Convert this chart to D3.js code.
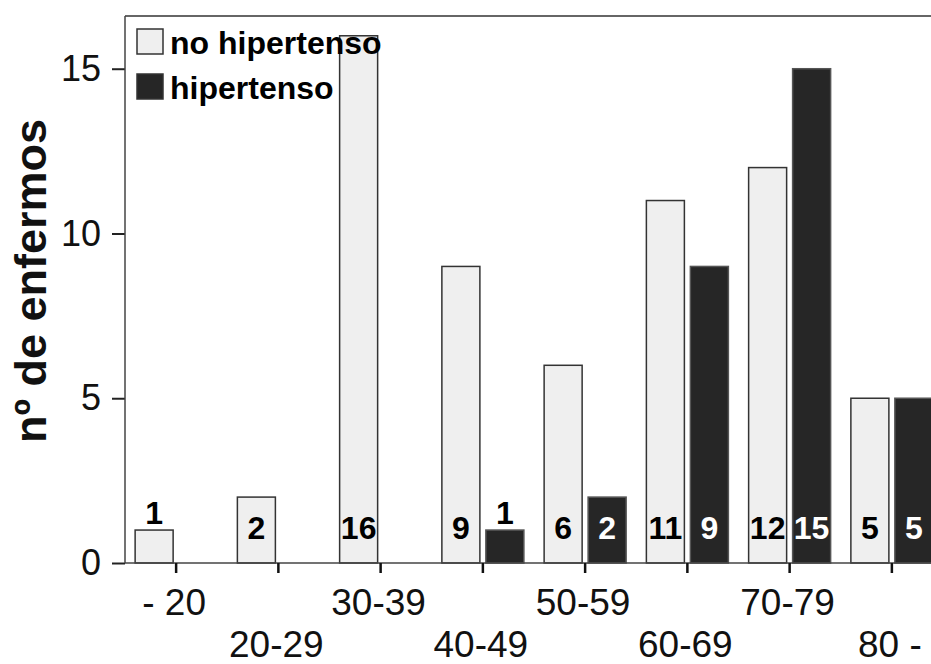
<!DOCTYPE html>
<html>
<head>
<meta charset="utf-8">
<title>enfermos por edad</title>
<script src="https://cdn.jsdelivr.net/npm/d3@7"></script>
<style>
  html, body { margin: 0; padding: 0; background: #fff; }
  svg { font-family: "Liberation Sans", Arial, sans-serif; display: block; }
</style>
</head>
<body>
<div id="chart"></div>
<script>
// grupos de edad y numero de enfermos
const categories = ['- 20', '20-29', '30-39', '40-49', '50-59', '60-69', '70-79', '80 -']
const series = ['no hipertenso', 'hipertenso']
const noHipertenso = [1, 2, 16, 9, 6, 11, 12, 5]
const hipertenso = [0, 0, 0, 1, 2, 9, 15, 5]
const yTicks = [0, 5, 10, 15]

const width = 931, height = 664
const plot = {left: 125, top: 16, bottom: 563, right: 943}

const svg = d3.select('#chart').append('svg')
  .attr('width', width)
  .attr('height', height)

const x = d3.scaleBand()
  .domain(categories)
  .range([plot.left, plot.right])

const bw = x.bandwidth()
const xSub = d3.scaleBand()
  .domain(series)
  .range([bw / 2 - 41, bw / 2 + 41])
  .paddingInner(0.136)

const y = d3.scaleLinear()
  .domain([0, 16.6])
  .range([plot.bottom, plot.top])

const fills = {'no hipertenso': '#efefef', 'hipertenso': '#262626'}
const strokes = {'no hipertenso': '#333', 'hipertenso': '#555'}
const textCol = {'no hipertenso': '#000', 'hipertenso': '#fff'}

// marco
svg.append('line')
  .attr('x1', plot.left).attr('x2', width)
  .attr('y1', plot.top).attr('y2', plot.top)
  .attr('stroke', '#666').attr('stroke-width', 2)

const rows = []
categories.forEach((c, i) => {
  rows.push({cat: c, s: 'no hipertenso', v: noHipertenso[i]})
  rows.push({cat: c, s: 'hipertenso', v: hipertenso[i]})
})
const bars = rows.filter(d => d.v > 0)

svg.selectAll('rect.bar')
  .data(bars)
  .enter()
  .append('rect')
   .attr('class', 'bar')
   .attr('x', d => x(d.cat) + xSub(d.s))
   .attr('y', d => y(d.v))
   .attr('width', xSub.bandwidth())
   .attr('height', d => y(0) - y(d.v))
   .attr('fill', d => fills[d.s])
   .attr('stroke', d => strokes[d.s])
   .attr('stroke-width', 1.5)

// etiquetas de valor
svg.selectAll('text.val')
  .data(bars)
  .enter()
  .append('text')
   .attr('class', 'val')
   .attr('x', d => x(d.cat) + xSub(d.s) + xSub.bandwidth() / 2)
   .attr('y', d => d.v >= 2 ? y(0) - 24 : y(d.v) - 6)
   .attr('text-anchor', 'middle')
   .attr('font-size', 32)
   .attr('font-weight', 'bold')
   .attr('fill', d => d.v >= 2 ? textCol[d.s] : '#000')
   .text(d => d.v)

// eje y
const yAxis = svg.append('g')
  .attr('transform', `translate(${plot.left},0)`)
  .call(d3.axisLeft(y).tickValues(yTicks).tickSize(13).tickPadding(11))
yAxis.select('.domain').remove()
yAxis.selectAll('line').attr('stroke', '#222').attr('stroke-width', 2)
yAxis.selectAll('text').attr('font-size', 36).attr('fill', '#111')
  .attr('font-family', '"Liberation Sans", Arial, sans-serif')
svg.append('line')
  .attr('x1', plot.left).attr('x2', plot.left)
  .attr('y1', plot.top).attr('y2', plot.bottom)
  .attr('stroke', '#444').attr('stroke-width', 1.5)

// eje x
svg.append('line')
  .attr('x1', plot.left).attr('x2', width)
  .attr('y1', plot.bottom).attr('y2', plot.bottom)
  .attr('stroke', '#444').attr('stroke-width', 1.5)
svg.selectAll('line.xtick')
  .data(categories)
  .enter()
  .append('line')
   .attr('class', 'xtick')
   .attr('x1', d => x(d) + bw / 2).attr('x2', d => x(d) + bw / 2)
   .attr('y1', plot.bottom).attr('y2', plot.bottom + 10)
   .attr('stroke', '#111').attr('stroke-width', 2.5)
svg.selectAll('text.xlab')
  .data(categories)
  .enter()
  .append('text')
   .attr('class', 'xlab')
   .attr('x', d => x(d) + bw / 2 - 2)
   .attr('y', (d, i) => i % 2 == 0 ? 615 : 657)
   .attr('text-anchor', 'middle')
   .attr('font-size', 37)
   .attr('fill', '#111')
   .text(d => d)

// titulo eje y
svg.append('text')
  .attr('transform', 'translate(46,281) rotate(-90)')
  .attr('text-anchor', 'middle')
  .attr('font-size', 45)
  .attr('font-weight', 'bold')
  .attr('fill', '#111')
  .text('nº de enfermos')

// leyenda
const legend = svg.selectAll('g.leg')
  .data(series)
  .enter()
  .append('g')
   .attr('class', 'leg')
   .attr('transform', (d, i) => `translate(137,${29 + i * 45})`)
legend.append('rect')
  .attr('width', 26).attr('height', 25)
  .attr('fill', d => fills[d])
  .attr('stroke', '#333').attr('stroke-width', 1.5)
legend.append('text')
  .attr('x', 33).attr('y', 25)
  .attr('font-size', 32)
  .attr('font-weight', 'bold')
  .attr('fill', '#000')
  .text(d => d)
</script>
</body>
</html>
